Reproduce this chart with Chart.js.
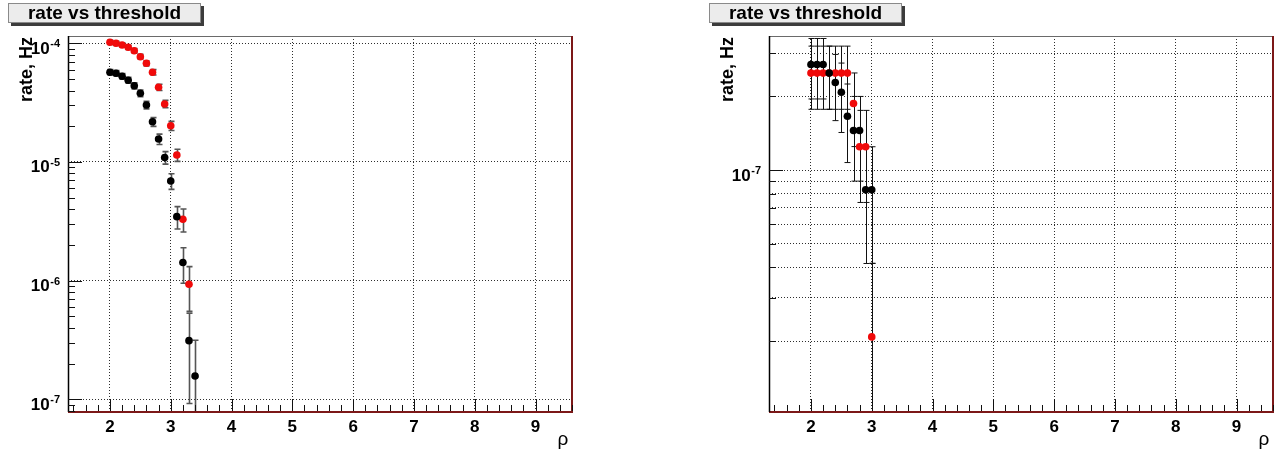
<!DOCTYPE html>
<html>
<head>
<meta charset="utf-8">
<title>rate vs threshold</title>
<script src="https://cdn.jsdelivr.net/npm/chart.js@4"></script>
<style>
  html, body { margin: 0; padding: 0; background: #fff; }
  #wrap { position: relative; width: 1281px; height: 453px; }
  canvas { position: absolute; top: 0; }
  #leftPad { left: 0; }
  #rightPad { left: 640px; }
</style>
</head>
<body>
<div id="wrap">
  <canvas id="leftPad" width="640" height="453"></canvas>
  <canvas id="rightPad" width="641" height="453"></canvas>
</div>
<script>
// left pad: rate above threshold, two selections
const rhoBlackLeft = [2.0, 2.1, 2.2, 2.3, 2.4, 2.5, 2.6, 2.7, 2.8, 2.9, 3.0, 3.1, 3.2, 3.3, 3.4];
const rateBlackLeft = [5.70e-5, 5.59e-5, 5.27e-5, 4.88e-5, 4.39e-5, 3.79e-5, 3.02e-5, 2.18e-5,
                       1.56e-5, 1.09e-5, 6.91e-6, 3.46e-6, 1.42e-6, 3.12e-7, 1.57e-7];
const errBlackLeft = [2.99e-6, 2.96e-6, 2.88e-6, 2.77e-6, 2.63e-6, 2.44e-6, 2.18e-6, 1.85e-6,
                      1.56e-6, 1.31e-6, 1.04e-6, 7.4e-7, 4.7e-7, 2.2e-7, 1.57e-7];

const rhoRedLeft = [2.0, 2.1, 2.2, 2.3, 2.4, 2.5, 2.6, 2.7, 2.8, 2.9, 3.0, 3.1, 3.2, 3.3];
const rateRedLeft = [1.02e-4, 1.00e-4, 9.67e-5, 9.25e-5, 8.66e-5, 7.71e-5, 6.78e-5, 5.70e-5,
                     4.26e-5, 3.08e-5, 2.02e-5, 1.145e-5, 3.29e-6, 9.31e-7];
const errRedLeft = [4.0e-6, 3.96e-6, 3.9e-6, 3.81e-6, 3.69e-6, 3.48e-6, 3.26e-6, 2.99e-6,
                    2.59e-6, 2.2e-6, 1.78e-6, 1.34e-6, 7.2e-7, 3.8e-7];

// right pad
const rhoRight = [2.0, 2.1, 2.2, 2.3, 2.4, 2.5, 2.6, 2.7, 2.8, 2.9, 3.0];
const rateBlackRight = [2.70e-7, 2.70e-7, 2.70e-7, 2.49e-7, 2.28e-7, 2.08e-7, 1.66e-7, 1.45e-7, 1.45e-7, 8.3e-8, 8.3e-8];
const errBlackRight = [7.48e-8, 7.48e-8, 7.48e-8, 7.19e-8, 6.88e-8, 6.56e-8, 5.87e-8, 5.49e-8, 5.49e-8, 4.15e-8, 4.15e-8];
const rateRedRight = [2.49e-7, 2.49e-7, 2.49e-7, 2.49e-7, 2.49e-7, 2.49e-7, 2.49e-7, 1.87e-7, 1.245e-7, 1.245e-7, 2.08e-8];
const errRedRight = [7.19e-8, 7.19e-8, 7.19e-8, 7.19e-8, 7.19e-8, 7.19e-8, 7.19e-8, 6.23e-8, 5.08e-8, 5.08e-8, 2.08e-8];

// axes
const xTickValues = [2, 3, 4, 5, 6, 7, 8, 9];
const yGridLeft = [1e-7, 1e-6, 1e-5, 1e-4];
const yGridRight = [2e-8, 3e-8, 4e-8, 5e-8, 6e-8, 7e-8, 8e-8, 9e-8, 1e-7, 2e-7, 3e-7];

const FONT = '"Liberation Sans", Arial, Helvetica, sans-serif';
const RED = '#f00a0a';

function points(xs, ys) {
  return xs.map((x, i) => ({ x: x, y: ys[i] }));
}

function setTicks(values) {
  return function(scale) {
    scale.ticks = values.map(v => ({ value: v }));
  };
}

// ROOT style pad: frame, inward ticks, 10^n labels, error bars, title box
const rootPad = {
  id: 'rootPad',
  beforeDatasetsDraw(chart) {
    const { ctx, chartArea: a, scales } = chart;
    const x = scales.x, y = scales.y;
    const opts = chart.options.plugins.rootPad;
    ctx.save();
    ctx.beginPath();
    ctx.rect(a.left, a.top, a.right - a.left, a.bottom - a.top);
    ctx.clip();
    ctx.strokeStyle = opts.barColor;
    ctx.lineWidth = opts.barWidth;
    chart.data.datasets.forEach(ds => {
      ds.data.forEach((p, i) => {
        const e = ds.errors[i];
        const px = Math.round(x.getPixelForValue(p.x)) + 0.5;
        const top = y.getPixelForValue(p.y + e);
        const lo = p.y - e;
        const bottom = lo > 0 ? y.getPixelForValue(lo) : a.bottom + 2;
        ctx.beginPath();
        ctx.moveTo(px, top);
        ctx.lineTo(px, bottom);
        ctx.moveTo(px - 3, top);
        ctx.lineTo(px + 3, top);
        if (lo > 0) {
          ctx.moveTo(px - 3, bottom);
          ctx.lineTo(px + 3, bottom);
        }
        ctx.stroke();
      });
    });
    ctx.restore();
  },
  afterDraw(chart) {
    const { ctx, chartArea: a, scales } = chart;
    const x = scales.x, y = scales.y;
    const opts = chart.options.plugins.rootPad;
    ctx.save();

    // frame
    ctx.lineWidth = 1;
    ctx.strokeStyle = '#6a6a6a';
    ctx.beginPath();
    ctx.moveTo(a.left, a.top + 0.5);
    ctx.lineTo(a.right, a.top + 0.5);
    ctx.stroke();
    ctx.strokeStyle = '#7c1818';
    ctx.lineWidth = 2;
    ctx.beginPath();
    ctx.moveTo(a.right, a.top);
    ctx.lineTo(a.right, a.bottom + 1);
    ctx.moveTo(a.left, a.bottom);
    ctx.lineTo(a.right, a.bottom);
    ctx.stroke();
    ctx.strokeStyle = '#000';
    ctx.lineWidth = 1.5;
    ctx.beginPath();
    ctx.moveTo(a.left + 0.5, a.top);
    ctx.lineTo(a.left + 0.5, a.bottom);
    ctx.stroke();

    // x ticks, 0.2 apart, long ones on integers
    ctx.lineWidth = 1;
    ctx.strokeStyle = '#111';
    ctx.beginPath();
    for (let k = 7; k <= 48; k++) {
      const px = Math.round(x.getPixelForValue(k / 5)) + 0.5;
      const len = k % 5 === 0 ? 12 : 6;
      ctx.moveTo(px, a.bottom - 1);
      ctx.lineTo(px, a.bottom - 1 - len);
    }
    ctx.stroke();

    // y ticks on the log axis
    ctx.beginPath();
    for (let e = -9; e <= -3; e++) {
      for (let m = 1; m <= 9; m++) {
        const v = m * Math.pow(10, e);
        if (v < y.min || v > y.max) continue;
        const py = Math.round(y.getPixelForValue(v)) + 0.5;
        const len = m === 1 ? 14 : 7;
        ctx.moveTo(a.left, py);
        ctx.lineTo(a.left + len, py);
      }
    }
    ctx.stroke();

    // x labels
    ctx.fillStyle = '#000';
    ctx.font = 'bold 17px ' + FONT;
    ctx.textAlign = 'center';
    ctx.textBaseline = 'middle';
    xTickValues.forEach(v => {
      ctx.fillText(String(v), x.getPixelForValue(v), 427);
    });

    // y labels as 10 with a raised exponent
    for (let e = -9; e <= -3; e++) {
      const v = Math.pow(10, e);
      if (v < y.min || v > y.max) continue;
      const py = y.getPixelForValue(v);
      const expText = String(e);
      ctx.font = 'bold 11px ' + FONT;
      const expW = ctx.measureText(expText).width;
      const expRight = a.left - 8;
      ctx.textAlign = 'left';
      ctx.textBaseline = 'alphabetic';
      ctx.fillText(expText, expRight - expW, py + 4);
      ctx.font = 'bold 17px ' + FONT;
      ctx.textAlign = 'right';
      ctx.fillText('10', expRight - expW - 0.5, py + 10.5);
    }

    // axis titles
    ctx.font = 'bold 18px ' + FONT;
    ctx.save();
    ctx.translate(a.left - 36, a.top + 1);
    ctx.rotate(-Math.PI / 2);
    ctx.textAlign = 'right';
    ctx.textBaseline = 'alphabetic';
    ctx.fillText(opts.yTitle, 0, 0);
    ctx.restore();

    ctx.font = '19px ' + FONT;
    ctx.textAlign = 'center';
    ctx.textBaseline = 'middle';
    ctx.fillText(opts.xTitle, a.right - 9, 440);

    // title box with shadow
    const bx = a.left - 60, by = 3, bw = 193, bh = 20;
    ctx.fillStyle = '#3c3c3c';
    ctx.fillRect(bx + 3, by + 3, bw, bh);
    ctx.fillStyle = '#ececec';
    ctx.fillRect(bx, by, bw, bh);
    ctx.strokeStyle = '#8a8a8a';
    ctx.lineWidth = 1;
    ctx.strokeRect(bx + 0.5, by + 0.5, bw - 1, bh - 1);
    ctx.fillStyle = '#000';
    ctx.font = 'bold 19px ' + FONT;
    ctx.textAlign = 'center';
    ctx.textBaseline = 'middle';
    ctx.fillText(opts.title, bx + bw / 2, by + bh / 2 + 1);

    ctx.restore();
  }
};

function makePad(canvasId, padLeft, padRight, yMin, yMax, yGrid, black, red, barColor, barWidth) {
  const ctx = document.getElementById(canvasId).getContext('2d');
  return new Chart(ctx, {
    type: 'scatter',
    data: {
      datasets: [
        {
          label: 'black',
          data: black.data,
          errors: black.errors,
          backgroundColor: '#000',
          borderColor: '#000',
          pointRadius: 3.8,
          pointBorderWidth: 0,
          pointHoverRadius: 3.8
        },
        {
          label: 'red',
          data: red.data,
          errors: red.errors,
          backgroundColor: RED,
          borderColor: RED,
          pointRadius: 3.8,
          pointBorderWidth: 0,
          pointHoverRadius: 3.8
        }
      ]
    },
    options: {
      responsive: false,
      animation: false,
      devicePixelRatio: 1,
      events: [],
      layout: {
        padding: { left: padLeft, right: padRight, top: 36, bottom: 41 }
      },
      plugins: {
        legend: { display: false },
        tooltip: { enabled: false },
        rootPad: {
          title: 'rate vs threshold',
          yTitle: 'rate, Hz',
          xTitle: 'ρ',
          barColor: barColor,
          barWidth: barWidth
        }
      },
      scales: {
        x: {
          type: 'linear',
          bounds: 'data',
          min: 1.31,
          max: 9.6,
          afterBuildTicks: setTicks(xTickValues),
          afterFit: s => { s.height = 0; },
          ticks: { display: false },
          grid: { color: '#2e2e2e', lineWidth: 1, drawTicks: false },
          border: { display: false, dash: [1, 2] }
        },
        y: {
          type: 'logarithmic',
          min: yMin,
          max: yMax,
          afterBuildTicks: setTicks(yGrid),
          afterFit: s => { s.width = 0; },
          ticks: { display: false },
          grid: { color: '#2e2e2e', lineWidth: 1, drawTicks: false },
          border: { display: false, dash: [1, 2] }
        }
      }
    },
    plugins: [rootPad]
  });
}

makePad('leftPad', 68, 68, 7.81e-8, 1.152e-4, yGridLeft,
  { data: points(rhoBlackLeft, rateBlackLeft), errors: errBlackLeft },
  { data: points(rhoRedLeft, rateRedLeft), errors: errRedLeft },
  '#555', 1.6);

makePad('rightPad', 129, 8, 1.026e-8, 3.53e-7, yGridRight,
  { data: points(rhoRight, rateBlackRight), errors: errBlackRight },
  { data: points(rhoRight, rateRedRight), errors: errRedRight },
  '#111', 1);
</script>
</body>
</html>
